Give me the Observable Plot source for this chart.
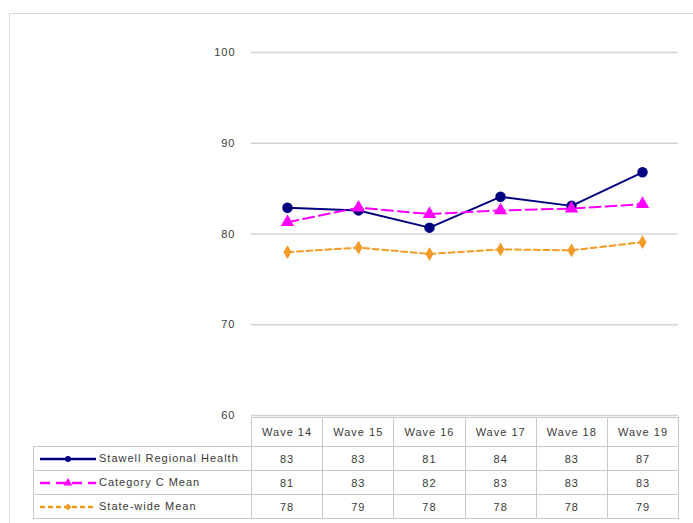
<!DOCTYPE html>
<html>
<head>
<meta charset="utf-8">
<script src="https://cdn.jsdelivr.net/npm/d3@7"></script>
<script src="https://cdn.jsdelivr.net/npm/@observablehq/plot@0.6"></script>
<style>
  html, body { margin: 0; padding: 0; background: #fff; }
  #wrap { position: relative; width: 693px; height: 523px; overflow: hidden; font-family: "Liberation Sans", Arial, sans-serif; }
  #border { position: absolute; left: 9px; top: 13px; width: 720px; height: 560px; border: 1px solid #d9d9d9; box-sizing: border-box; }
  #chart { position: absolute; left: 0; top: 0; }
  #chart svg text { letter-spacing: 1px; }
  #tbl { position: absolute; left: 33px; top: 417px; border-collapse: collapse; table-layout: fixed; font-size: 11px; letter-spacing: 1px; color: #3a3a3a; }
  #tbl td { border: 1px solid #c8c8c8; padding: 0; text-align: center; white-space: nowrap; background: #fff; overflow: hidden; }
  #tbl tr.head td { height: 28px; }
  #tbl tr.row td { height: 23px; }
  #tbl td.blank { border-top: none; border-left: none; background: transparent; }
  #tbl td.leg { text-align: left; }
  #tbl td.leg svg { vertical-align: middle; margin-left: 6px; margin-right: 3px; }
</style>
</head>
<body>
<div id="wrap">
  <div id="border"></div>
  <div id="chart"></div>
  <table id="tbl"></table>
</div>
<script>
// ---- Data ----
const waves = ["Wave 14", "Wave 15", "Wave 16", "Wave 17", "Wave 18", "Wave 19"];
const seriesNames = ["Stawell Regional Health", "Category C Mean", "State-wide Mean"];
const stawell   = [82.9, 82.6, 80.7, 84.1, 83.1, 86.8];
const categoryC = [81.3, 82.9, 82.2, 82.6, 82.8, 83.3];
const stateWide = [78.0, 78.5, 77.8, 78.3, 78.2, 79.1];
const stawellLabels   = ["83", "83", "81", "84", "83", "87"];
const categoryCLabels = ["81", "83", "82", "83", "83", "83"];
const stateWideLabels = ["78", "79", "78", "78", "78", "79"];
const yTicks = [60, 70, 80, 90, 100];

// ---- Styles ----
const styles = [
  {color: "#000080", dash: null, symbol: "circle", r: 4.5},
  {color: "#ff00ff", dash: "11,5", symbol: "triangle", r: 4},
  {color: "#f39b26", dash: "6,3.5", symbol: "diamond", r: 3.3}
];
const values = [stawell, categoryC, stateWide];
const labels = [stawellLabels, categoryCLabels, stateWideLabels];

const data = values.map((vals, s) => waves.map((w, i) => ({wave: w, value: vals[i], series: seriesNames[s]})));

const marks = [
  Plot.gridY(yTicks, {stroke: "#d4d4d4", strokeOpacity: 1, strokeWidth: 1.3}),
  Plot.axisY(yTicks, {tickSize: 0, tickPadding: 16, label: null, fontSize: 11, fill: "#3a3a3a"})
];
data.forEach((d, s) => {
  const st = styles[s];
  marks.push(Plot.line(d, {x: "wave", y: "value", stroke: st.color, strokeWidth: 2, strokeDasharray: st.dash || undefined}));
});
data.forEach((d, s) => {
  const st = styles[s];
  marks.push(Plot.dot(d, {x: "wave", y: "value", symbol: () => st.symbol, fill: st.color, stroke: st.color, r: st.r}));
});

const chart = Plot.plot({
  width: 693,
  height: 523,
  marginLeft: 251,
  marginRight: 15,
  marginTop: 52,
  marginBottom: 108,
  x: {type: "point", domain: waves, padding: 0.5, axis: null},
  y: {domain: [60, 100]},
  symbol: {type: "identity"},
  style: {fontFamily: "Liberation Sans, Arial, sans-serif", fontSize: "11px", color: "#3a3a3a", background: "transparent"},
  marks
});
document.getElementById("chart").appendChild(chart);

// ---- Data table ----
const tbl = document.getElementById("tbl");
const colg = document.createElement("colgroup");
const c0 = document.createElement("col"); c0.style.width = "218px"; colg.appendChild(c0);
waves.forEach(() => { const c = document.createElement("col"); c.style.width = "71.2px"; colg.appendChild(c); });
tbl.appendChild(colg);

const head = document.createElement("tr");
head.className = "head";
const blank = document.createElement("td"); blank.className = "blank"; head.appendChild(blank);
waves.forEach(w => { const td = document.createElement("td"); td.textContent = w; head.appendChild(td); });
tbl.appendChild(head);

function swatch(st) {
  const ns = "http://www.w3.org/2000/svg";
  const svg = document.createElementNS(ns, "svg");
  svg.setAttribute("width", 56); svg.setAttribute("height", 12);
  const ln = document.createElementNS(ns, "line");
  ln.setAttribute("x1", 0); ln.setAttribute("x2", 56); ln.setAttribute("y1", 6); ln.setAttribute("y2", 6);
  ln.setAttribute("stroke", st.color); ln.setAttribute("stroke-width", 2.5);
  if (st.dash) ln.setAttribute("stroke-dasharray", st.dash === "11,5" ? "10,6" : "5,3");
  svg.appendChild(ln);
  const sym = {circle: d3.symbolCircle, triangle: d3.symbolTriangle, diamond: d3.symbolDiamond2}[st.symbol];
  const p = document.createElementNS(ns, "path");
  p.setAttribute("d", d3.symbol(sym, st.symbol === "circle" ? 28 : 32)());
  p.setAttribute("transform", "translate(28,6)");
  p.setAttribute("fill", st.color);
  svg.appendChild(p);
  return svg;
}

seriesNames.forEach((name, s) => {
  const tr = document.createElement("tr");
  tr.className = "row";
  const lg = document.createElement("td"); lg.className = "leg";
  lg.appendChild(swatch(styles[s]));
  lg.appendChild(document.createTextNode(name));
  tr.appendChild(lg);
  labels[s].forEach(v => { const td = document.createElement("td"); td.textContent = v; tr.appendChild(td); });
  tbl.appendChild(tr);
});
</script>
</body>
</html>
